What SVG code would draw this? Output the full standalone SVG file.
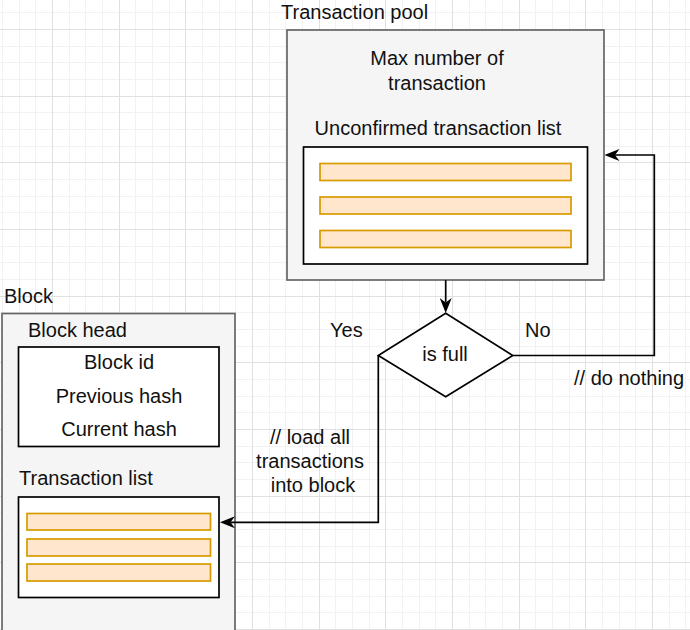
<svg xmlns="http://www.w3.org/2000/svg" width="690" height="630" viewBox="0 0 690 630">
<defs>
<style>
text{font-family:"Liberation Sans",Arial,sans-serif;font-size:20px;fill:#111}
.mid{text-anchor:middle}
.outer{fill:#f5f5f5;stroke:#666;stroke-width:1.7}
.inner{fill:#fff;stroke:#000;stroke-width:1.7}
.bar{fill:#ffe6cc;stroke:#d79b00;stroke-width:1.7}
.edge{fill:none;stroke:#000;stroke-width:1.7}
</style>
<marker id="arr" markerUnits="userSpaceOnUse" viewBox="0 0 15 12" markerWidth="15" markerHeight="12" refX="4.5" refY="6" orient="auto">
<path d="M0,0 L15,6 L0,12 L4.5,6 Z" fill="#000"/>
</marker>
</defs>
<rect width="690" height="630" fill="#fff"/>
<g id="grid" stroke-width="1" fill="none">
<path stroke="#f2f2f2" d="M2.5 0V630M19.5 0V630M35.5 0V630M69.5 0V630M85.5 0V630M102.5 0V630M135.5 0V630M152.5 0V630M169.5 0V630M202.5 0V630M219.5 0V630M235.5 0V630M269.5 0V630M285.5 0V630M302.5 0V630M335.5 0V630M352.5 0V630M369.5 0V630M402.5 0V630M419.5 0V630M435.5 0V630M469.5 0V630M485.5 0V630M502.5 0V630M535.5 0V630M552.5 0V630M569.5 0V630M602.5 0V630M619.5 0V630M635.5 0V630M669.5 0V630M685.5 0V630M0 12.5H690M0 46.5H690M0 62.5H690M0 79.5H690M0 112.5H690M0 129.5H690M0 146.5H690M0 179.5H690M0 196.5H690M0 212.5H690M0 246.5H690M0 262.5H690M0 279.5H690M0 312.5H690M0 329.5H690M0 346.5H690M0 379.5H690M0 396.5H690M0 412.5H690M0 446.5H690M0 462.5H690M0 479.5H690M0 512.5H690M0 529.5H690M0 546.5H690M0 579.5H690M0 596.5H690M0 612.5H690"/>
<path stroke="#e0e0e0" d="M52.5 0V630M119.5 0V630M185.5 0V630M252.5 0V630M319.5 0V630M385.5 0V630M452.5 0V630M519.5 0V630M585.5 0V630M652.5 0V630M0 29.5H690M0 96.5H690M0 162.5H690M0 229.5H690M0 296.5H690M0 362.5H690M0 429.5H690M0 496.5H690M0 562.5H690M0 629.5H690"/>
</g>
<g id="pool">
<text x="281" y="19">Transaction pool</text>
<rect class="outer" x="287" y="30" width="317" height="250"/>
<text class="mid" x="437" y="65">Max number of</text>
<text class="mid" x="437" y="90">transaction</text>
<text class="mid" x="438" y="135">Unconfirmed transaction list</text>
<rect class="inner" x="303.5" y="147" width="284" height="117"/>
<rect class="bar" x="320" y="163.5" width="251" height="17"/>
<rect class="bar" x="320" y="197" width="251" height="17"/>
<rect class="bar" x="320" y="230.5" width="251" height="17"/>
</g>
<g id="block">
<text x="4" y="303">Block</text>
<rect class="outer" x="2" y="313.5" width="233" height="330"/>
<text x="28" y="337">Block head</text>
<rect class="inner" x="18.5" y="347" width="200.5" height="99.5"/>
<text class="mid" x="119" y="369">Block id</text>
<text class="mid" x="119" y="403">Previous hash</text>
<text class="mid" x="119" y="436">Current hash</text>
<text x="19" y="485">Transaction list</text>
<rect class="inner" x="18.5" y="497" width="200.5" height="100.5"/>
<rect class="bar" x="27" y="513.5" width="183.5" height="16.5"/>
<rect class="bar" x="27" y="539" width="183.5" height="17"/>
<rect class="bar" x="27" y="564" width="183.5" height="17"/>
</g>
<g id="decision">
<path d="M445.7,313.3 L512.7,355.5 L445.7,396.7 L378.3,355.5 Z" fill="#fff" stroke="#000" stroke-width="1.7"/>
<text class="mid" x="445" y="361">is full</text>
</g>
<g id="connectors">
<path class="edge" d="M445.7,280 V302.5" marker-end="url(#arr)"/>
<path class="edge" d="M512.7,355.5 H654.3 V155 H615" marker-end="url(#arr)"/>
<path class="edge" d="M378.3,355.5 V522.3 H230.5" marker-end="url(#arr)"/>
<text x="330" y="337">Yes</text>
<text x="525" y="337">No</text>
<text x="574" y="385">// do nothing</text>
<text class="mid" x="310" y="444">// load all</text>
<text class="mid" x="310" y="468">transactions</text>
<text class="mid" x="313" y="492">into block</text>
</g>
</svg>
